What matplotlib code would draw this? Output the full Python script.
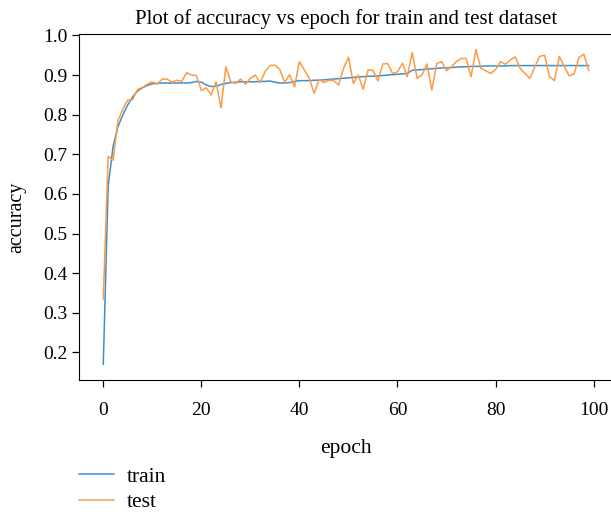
import numpy as np
import matplotlib
matplotlib.use("Agg")
import matplotlib.pyplot as plt

plt.rcParams['font.family'] = ['Liberation Serif', 'DejaVu Serif']

# accuracy per epoch
epochs = list(range(100))
train_acc = [
    0.170, 0.620, 0.720, 0.770, 0.800, 0.825, 0.845, 0.860, 0.868, 0.874,
    0.878, 0.879, 0.880, 0.880, 0.880, 0.880, 0.880, 0.880, 0.881, 0.884,
    0.882, 0.875, 0.871, 0.872, 0.876, 0.879, 0.881, 0.882, 0.883, 0.883,
    0.883, 0.883, 0.884, 0.884, 0.885, 0.882, 0.880, 0.880, 0.881, 0.884,
    0.886, 0.886, 0.886, 0.887, 0.887, 0.888, 0.889, 0.890, 0.891, 0.892,
    0.893, 0.894, 0.895, 0.896, 0.897, 0.897, 0.898, 0.899, 0.900, 0.901,
    0.902, 0.903, 0.904, 0.912, 0.913, 0.914, 0.915, 0.916, 0.917, 0.918,
    0.918, 0.919, 0.920, 0.921, 0.921, 0.922, 0.922, 0.922, 0.923, 0.923,
    0.923, 0.923, 0.923, 0.924, 0.924, 0.924, 0.924, 0.924, 0.924, 0.924,
    0.924, 0.924, 0.924, 0.924, 0.924, 0.924, 0.924, 0.924, 0.924, 0.924,
]
test_acc = [
    0.335, 0.695, 0.685, 0.785, 0.815, 0.837, 0.838, 0.864, 0.869, 0.877,
    0.883, 0.877, 0.890, 0.890, 0.882, 0.887, 0.884, 0.906, 0.900, 0.899,
    0.861, 0.868, 0.850, 0.883, 0.817, 0.921, 0.883, 0.879, 0.890, 0.877,
    0.892, 0.900, 0.881, 0.909, 0.924, 0.925, 0.914, 0.881, 0.901, 0.870,
    0.934, 0.913, 0.892, 0.854, 0.889, 0.881, 0.887, 0.886, 0.875, 0.917,
    0.945, 0.879, 0.900, 0.864, 0.913, 0.912, 0.885, 0.928, 0.929, 0.904,
    0.908, 0.930, 0.896, 0.957, 0.892, 0.900, 0.928, 0.862, 0.929, 0.934,
    0.911, 0.921, 0.934, 0.942, 0.942, 0.896, 0.964, 0.917, 0.911, 0.904,
    0.914, 0.934, 0.927, 0.938, 0.946, 0.917, 0.904, 0.892, 0.921, 0.947,
    0.950, 0.896, 0.886, 0.947, 0.922, 0.898, 0.903, 0.944, 0.953, 0.912,
]
yticks = [0.2, 0.3, 0.4, 0.5, 0.6, 0.7, 0.8, 0.9, 1.0]
xticks = [0, 20, 40, 60, 80, 100]

fig = plt.figure(figsize=(6.11, 5.12), dpi=100)
# axes runs slightly past the right edge like the reference crop
ax = fig.add_axes([0.1293, 0.2578, 0.874, 0.6758])

ax.plot(epochs, train_acc, color='#3d8fcc', lw=1.1, label='train')
ax.plot(epochs, test_acc, color='#fd9a44', lw=1.1, label='test')

ax.set_xticks(xticks)
ax.set_yticks(yticks)
ax.set_yticklabels(['%.1f' % v for v in yticks])
ax.tick_params(labelsize=14, length=5, width=0.9)
ax.tick_params(axis='x', pad=10.5)
ax.tick_params(axis='y', pad=3.5)
ax.set_title('Plot of accuracy vs epoch for train and test dataset', fontsize=15, pad=7)
ax.set_xlabel('epoch', fontsize=15.5)
ax.set_ylabel('accuracy', fontsize=14.5)
ax.xaxis.set_label_coords(0.5, -0.17)
ax.yaxis.set_label_coords(-0.099, 0.47)

fig.legend(loc='upper left', bbox_to_anchor=(0.1293, 0.089), bbox_transform=fig.transFigure,
           frameon=False, fontsize=15.5, handlelength=1.63, borderpad=0, borderaxespad=0,
           labelspacing=0.26, handletextpad=0.59)

fig.savefig('out.png', dpi=100)
